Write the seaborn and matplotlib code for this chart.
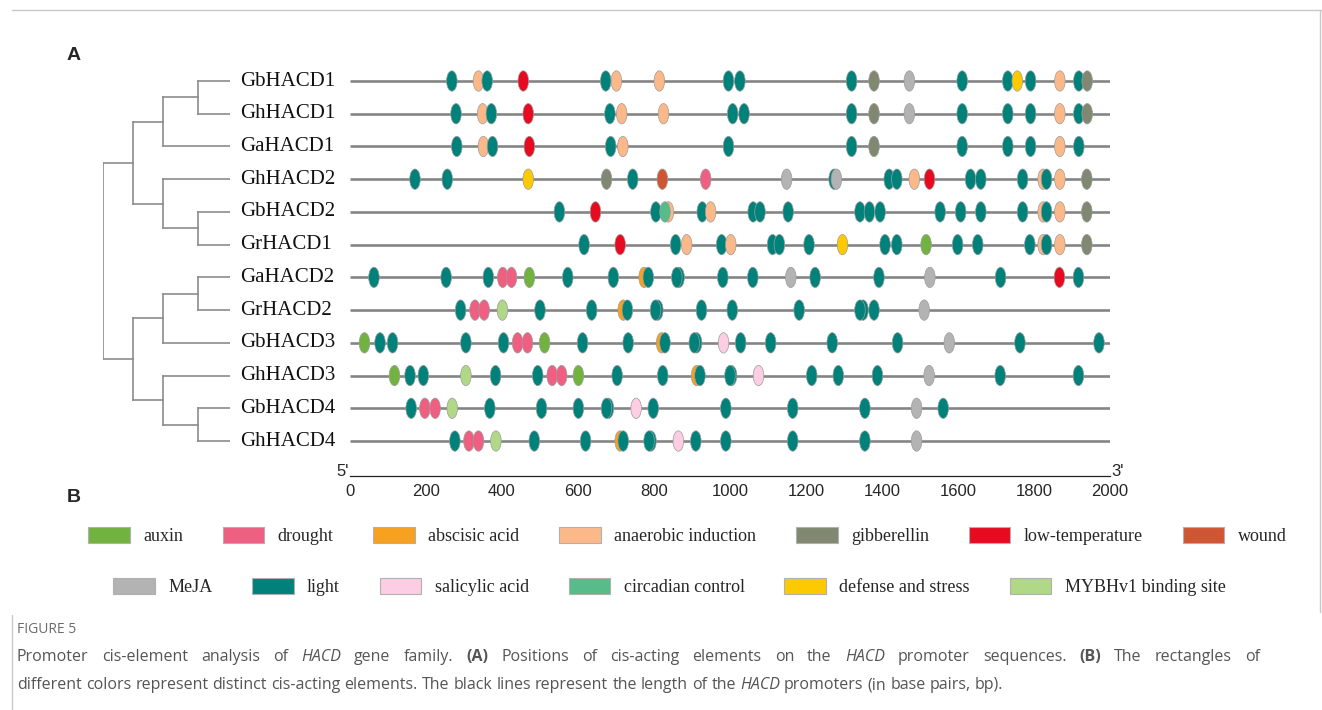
import numpy as np
import pandas as pd
import matplotlib
matplotlib.use("Agg")
import matplotlib.pyplot as plt
from matplotlib.path import Path
from matplotlib.patches import Patch
from matplotlib.lines import Line2D
from matplotlib.markers import MarkerStyle
import seaborn as sns

# ---------------- data ----------------
genes = ["GbHACD1", "GhHACD1", "GaHACD1", "GhHACD2", "GbHACD2", "GrHACD1",
         "GaHACD2", "GrHACD2", "GbHACD3", "GhHACD3", "GbHACD4", "GhHACD4"]
promoter_length = [2000, 2000, 2000, 2000, 2000, 2000,
                   2000, 2000, 2000, 2000, 2000, 2000]

element_names = ["auxin", "drought", "abscisic acid", "anaerobic induction",
                 "gibberellin", "low-temperature", "wound",
                 "MeJA", "light", "salicylic acid", "circadian control",
                 "defense and stress", "MYBHv1 binding site"]
element_colors = ["#72B340", "#EF5F82", "#F7A11E", "#FBB98A",
                  "#808872", "#E60B20", "#D05633",
                  "#B3B3B3", "#00817A", "#FCCDE3", "#57BB8A",
                  "#FDCA02", "#B0D886"]
legend_row1 = element_names[:7]
legend_row2 = element_names[7:]

L, AN, LT, GI, ME = "light", "anaerobic induction", "low-temperature", "gibberellin", "MeJA"
DS, WO, DR, AU, AB = "defense and stress", "wound", "drought", "auxin", "abscisic acid"
SA, CC, MY = "salicylic acid", "circadian control", "MYBHv1 binding site"

GbHACD1 = [(L, 268), (AN, 338), (L, 361), (LT, 456), (L, 673), (AN, 701), (AN, 814),
           (L, 996), (L, 1026), (L, 1320), (GI, 1379), (ME, 1472), (L, 1611), (L, 1731),
           (DS, 1756), (L, 1791), (AN, 1868), (L, 1918), (GI, 1940)]
GhHACD1 = [(L, 279), (AN, 349), (L, 372), (LT, 469), (L, 684), (AN, 715), (AN, 825),
           (L, 1007), (L, 1037), (L, 1320), (GI, 1379), (ME, 1472), (L, 1611), (L, 1731),
           (L, 1791), (AN, 1868), (L, 1918), (GI, 1940)]
GaHACD1 = [(L, 281), (AN, 351), (L, 375), (LT, 472), (L, 686), (AN, 718), (L, 996),
           (L, 1320), (GI, 1379), (L, 1611), (L, 1731), (L, 1791), (AN, 1868), (L, 1918)]
GhHACD2 = [(L, 171), (L, 256), (DS, 469), (GI, 675), (L, 744), (WO, 822), (DR, 936),
           (ME, 1149), (L, 1274), (ME, 1280), (L, 1419), (L, 1439), (AN, 1485), (LT, 1525),
           (L, 1633), (L, 1660), (L, 1770), (AN, 1824), (L, 1833), (AN, 1868), (GI, 1939)]
GbHACD2 = [(L, 551), (LT, 646), (L, 805), (AN, 838), (CC, 829), (L, 927), (AN, 949),
           (L, 1061), (L, 1079), (L, 1153), (L, 1342), (L, 1367), (L, 1395), (L, 1553),
           (L, 1607), (L, 1660), (L, 1770), (AN, 1824), (L, 1833), (AN, 1868), (GI, 1939)]
GrHACD1 = [(L, 616), (LT, 711), (L, 857), (AN, 886), (L, 978), (AN, 1002), (L, 1112),
           (L, 1130), (L, 1208), (DS, 1296), (L, 1408), (L, 1439), (AU, 1516), (L, 1599),
           (L, 1652), (L, 1789), (AN, 1824), (L, 1833), (AN, 1868), (GI, 1939)]
GaHACD2 = [(L, 63), (L, 253), (L, 364), (DR, 402), (DR, 425), (AU, 472), (L, 573),
           (L, 693), (AB, 774), (L, 785), (L, 866), (L, 860), (L, 981), (L, 1060),
           (ME, 1160), (L, 1224), (L, 1392), (ME, 1526), (L, 1712), (LT, 1867), (L, 1917)]
GrHACD2 = [(L, 291), (DR, 329), (DR, 353), (MY, 401), (L, 500), (L, 636), (AB, 719),
           (L, 730), (L, 810), (L, 804), (L, 925), (L, 1006), (L, 1182), (L, 1350),
           (L, 1342), (L, 1379), (ME, 1511)]
GbHACD3 = [(AU, 38), (L, 79), (L, 112), (L, 305), (L, 404), (DR, 441), (DR, 467),
           (AU, 512), (L, 612), (L, 732), (AB, 820), (L, 829), (L, 912), (L, 906),
           (SA, 983), (L, 1028), (L, 1107), (L, 1269), (L, 1441), (ME, 1577), (L, 1763),
           (L, 1971)]
GhHACD3 = [(AU, 117), (L, 158), (L, 193), (MY, 305), (L, 383), (L, 494), (DR, 532),
           (DR, 557), (AU, 601), (L, 703), (L, 823), (AB, 912), (L, 921), (L, 1004),
           (L, 1000), (SA, 1075), (L, 1215), (L, 1285), (L, 1388), (ME, 1524), (L, 1711),
           (L, 1917)]
GbHACD4 = [(L, 161), (DR, 197), (DR, 224), (MY, 269), (L, 368), (L, 504), (L, 601),
           (L, 680), (L, 675), (SA, 753), (L, 798), (L, 989), (L, 1165), (L, 1355),
           (ME, 1491), (L, 1561)]
GhHACD4 = [(L, 276), (DR, 313), (DR, 338), (MY, 384), (L, 485), (L, 620), (AB, 711),
           (L, 719), (L, 792), (L, 787), (SA, 864), (L, 910), (L, 989), (L, 1165),
           (L, 1355), (ME, 1491)]

gene_elements = [GbHACD1, GhHACD1, GaHACD1, GhHACD2, GbHACD2, GrHACD1,
                 GaHACD2, GrHACD2, GbHACD3, GhHACD3, GbHACD4, GhHACD4]

# phylogenetic tree topology
tree = (((("GbHACD1", "GhHACD1"), "GaHACD1"), ("GhHACD2", ("GbHACD2", "GrHACD1"))),
        ((("GaHACD2", "GrHACD2"), "GbHACD3"), ("GhHACD3", ("GbHACD4", "GhHACD4"))))
node_level_x = [0, 30, 60, 95]
leaf_x = 127

x_ticks = [0, 200, 400, 600, 800, 1000, 1200, 1400, 1600, 1800, 2000]

caption_title = "FIGURE 5"
caption_line1 = [("Promoter cis-element analysis of ", ""), ("HACD", "i"),
                 (" gene family. ", ""), ("(A)", "b"),
                 (" Positions of cis-acting elements on the ", ""), ("HACD", "i"),
                 (" promoter sequences. ", ""), ("(B)", "b"),
                 (" The rectangles of", "")]
caption_line2 = [("different colors represent distinct cis-acting elements. The black lines represent the length of the ", ""),
                 ("HACD", "i"), (" promoters (in base pairs, bp).", "")]

# ---------------- build frame ----------------
rows = []
for gi, elems in enumerate(gene_elements):
    for name, pos in elems:
        rows.append({"gene": genes[gi], "row": gi, "pos": pos, "element": name})
df = pd.DataFrame(rows)
palette = dict(zip(element_names, element_colors))

# ---------------- figure ----------------
sns.set_style("white")
plt.rcParams["font.family"] = ["Liberation Sans", "DejaVu Sans"]

W, H = 1322, 710
fig = plt.figure(figsize=(W / 100, H / 100), dpi=100)

row_top_px, row_step_px = 81, 32.73
ax_top_px, ax_bot_px = 60, 476
ylim_top = (ax_top_px - row_top_px) / row_step_px
ylim_bot = (ax_bot_px - row_top_px) / row_step_px

ax = fig.add_axes([350 / W, 1 - ax_bot_px / H, 760 / W, (ax_bot_px - ax_top_px) / H])
tax = fig.add_axes([103 / W, 1 - ax_bot_px / H, 127 / W, (ax_bot_px - ax_top_px) / H],
                   sharey=ax)

# promoter lines
ax.hlines(np.arange(len(genes)), 0, promoter_length, color="#858585", lw=1.9, zorder=1)

# element ovals
circ = Path.unit_circle()
ell = Path(circ.vertices * np.array([0.52, 1.0]), circ.codes)
sns.scatterplot(data=df, x="pos", y="row", hue="element", palette=palette,
                marker=MarkerStyle(ell), s=215, edgecolor="#9c9c9c", linewidth=0.5,
                legend=False, ax=ax, zorder=3)

ax.set_xlim(0, 2000)
ax.set_ylim(ylim_bot, ylim_top)
ax.set_xticks(x_ticks)
ax.set_xticklabels([str(t) for t in x_ticks], fontsize=12, family="Liberation Sans")
ax.set_yticks([])
ax.set_xlabel("")
ax.set_ylabel("")
for s in ["top", "right", "left"]:
    ax.spines[s].set_visible(False)
ax.spines["bottom"].set_color("#222222")
ax.spines["bottom"].set_linewidth(0.9)
ax.tick_params(axis="x", direction="out", length=4, width=0.9, color="#222222", pad=2)
ax.patch.set_alpha(0)

ax.text(-4, ylim_bot - 0.15, "5'", ha="right", va="center", fontsize=12, family="Liberation Sans")
ax.text(2004, ylim_bot - 0.15, "3'", ha="left", va="center", fontsize=12, family="Liberation Sans")

# tree
tree_color = "#8c8c8c"


def draw_node(node, depth):
    if isinstance(node, str):
        return genes.index(node)
    x = node_level_x[depth]
    ys = []
    for child in node:
        cy = draw_node(child, depth + 1)
        cx = leaf_x if isinstance(child, str) else node_level_x[depth + 1]
        tax.plot([x, cx], [cy, cy], color=tree_color, lw=1.2, solid_capstyle="projecting")
        ys.append(cy)
    tax.plot([x, x], [min(ys), max(ys)], color=tree_color, lw=1.2, solid_capstyle="projecting")
    return (min(ys) + max(ys)) / 2


draw_node(tree, 0)
tax.set_xlim(0, 127)
tax.axis("off")
for i, g in enumerate(genes):
    tax.text(137, i, g, ha="left", va="center", fontsize=15, family="Liberation Serif",
             color="#111111", clip_on=False)

# panel labels
fig.text(67 / W, 1 - 55 / H, "A", fontsize=14, fontweight="bold", ha="left", va="center")
fig.text(67 / W, 1 - 498 / H, "B", fontsize=14, fontweight="bold", ha="left", va="center")

# legends
def make_handles(names):
    return [Patch(facecolor=palette[n], edgecolor="#b0b0b0", linewidth=0.8) for n in names]


leg_kw = dict(frameon=False, prop={"family": "Liberation Serif", "size": 13},
              handlelength=2.3, handleheight=1.0, handletextpad=0.75, columnspacing=2.2,
              borderpad=0, borderaxespad=0, loc="center left")
leg1 = fig.legend(make_handles(legend_row1), legend_row1, ncol=7,
                  bbox_to_anchor=(88 / W, 1 - 536 / H), **leg_kw)
leg2 = fig.legend(make_handles(legend_row2), legend_row2, ncol=6,
                  bbox_to_anchor=(113 / W, 1 - 587 / H), **leg_kw)

# caption
renderer = fig.canvas.get_renderer()
cap_font = ["Open Sans", "DejaVu Sans"]
fig.text(17 / W, 1 - 633 / H, caption_title, fontsize=10, color="#6b6b6b", family=cap_font,
         ha="left", va="baseline")


def _style_kw(style, size, color):
    return dict(fontsize=size, color=color, family=cap_font,
                fontweight="bold" if "b" in style else "normal",
                fontstyle="italic" if "i" in style else "normal")


def _width(text, style, size, color):
    t = fig.text(0, 0, text, **_style_kw(style, size, color))
    w = t.get_window_extent(renderer).width
    t.remove()
    return w


def rich_line(segments, x_px, y_px, size, color, justify_to=None):
    tokens = []
    for text, style in segments:
        parts = text.split(" ")
        for k, p in enumerate(parts):
            if k > 0:
                tokens.append((" ", style))
            if p:
                tokens.append((p, style))
    space_w = _width("x x", "", size, color) - _width("xx", "", size, color)
    widths = [space_w if tx == " " else _width(tx, st, size, color) for tx, st in tokens]
    n_sp = sum(1 for tx, _ in tokens if tx == " ")
    extra = 0.0
    if justify_to is not None and n_sp:
        extra = (justify_to - x_px - sum(widths)) / n_sp
    x = x_px
    for (tx, st), w in zip(tokens, widths):
        if tx == " ":
            x += w + extra
            continue
        fig.text(x / W, 1 - y_px / H, tx, ha="left", va="baseline", **_style_kw(st, size, color))
        x += w


rich_line(caption_line1, 17, 661, 11.5, "#555555", justify_to=1260)
rich_line(caption_line2, 17, 689, 11.5, "#555555")

# frame lines
frame_color = "#c8c8c8"
fig.add_artist(Line2D([12 / W, 1], [1 - 10 / H, 1 - 10 / H], transform=fig.transFigure,
                      color=frame_color, lw=1))
fig.add_artist(Line2D([1320 / W, 1320 / W], [1 - 10 / H, 1 - 612 / H], transform=fig.transFigure,
                      color=frame_color, lw=1))
fig.add_artist(Line2D([12 / W, 12 / W], [1 - 615 / H, 0], transform=fig.transFigure,
                      color=frame_color, lw=1))

fig.savefig("out.png", dpi=100)
